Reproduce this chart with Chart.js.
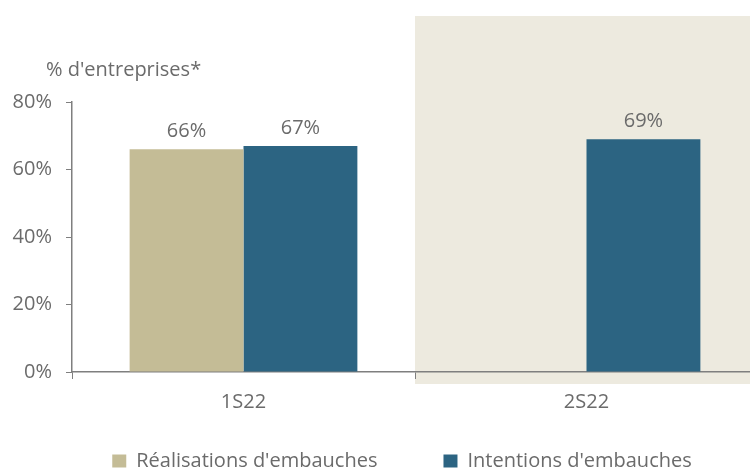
<!DOCTYPE html>
<html>
<head>
<meta charset="utf-8">
<script src="https://cdn.jsdelivr.net/npm/chart.js@4/dist/chart.umd.min.js"></script>
<style>
html,body{margin:0;padding:0;overflow:hidden;background:#fff;}
#wrap{width:758px;height:471px;position:relative;}
</style>
</head>
<body>
<div id="wrap"><canvas id="c" width="758" height="471"></canvas></div>
<script>
const categories = ['1S22', '2S22'];
const realisations = [66, null];
const intentions = [67, 69];
const yTicks = [0, 20, 40, 60, 80];
const seriesNames = ["Réalisations d'embauches", "Intentions d'embauches"];
const unitTitle = "% d'entreprises*";

const FONT = '"Open Sans", Lato, sans-serif';
const TXT = '#6b6b6b';
const AXIS = '#7f7f7f';
const LEG_PAD = 66;
const LEG_FONT = 20;

const decor = {
  id: 'decor',
  afterLayout(chart) {
    const lg = chart.legend;
    if (lg) {
      lg.top = 461 - LEG_FONT / 2 - LEG_PAD;
      lg.bottom = chart.height;
      lg.height = lg.bottom - lg.top;
      lg.left = 46;
      lg.width = lg.right - lg.left;
    }
  },
  beforeDraw(chart) {
    const {ctx, chartArea, scales: {x}} = chart;
    const half = (x.getPixelForValue(1) - x.getPixelForValue(0)) / 2;
    const left = x.getPixelForValue(1) - half;
    ctx.save();
    ctx.fillStyle = '#edeadf';
    ctx.fillRect(left, chartArea.top - 86, chart.width - left, chartArea.bottom - chartArea.top + 98);
    ctx.restore();
  },
  afterDraw(chart) {
    const {ctx, chartArea} = chart;
    ctx.save();
    ctx.fillStyle = TXT;
    ctx.textBaseline = 'alphabetic';
    ctx.textAlign = 'left';
    ctx.font = '20px ' + FONT;
    ctx.fillText(unitTitle, 46, chartArea.top - 26);
    ctx.textAlign = 'center';
    ctx.font = '20px ' + FONT;
    chart.data.datasets.forEach((ds, di) => {
      const meta = chart.getDatasetMeta(di);
      meta.data.forEach((bar, i) => {
        const v = ds.data[i];
        if (v === null || v === undefined) return;
        ctx.fillText(v + '%', bar.x, bar.y - 12);
      });
    });
    ctx.restore();
  }
};

new Chart(document.getElementById('c'), {
  type: 'bar',
  data: {
    labels: categories,
    datasets: [
      {label: seriesNames[0], data: realisations, backgroundColor: '#c4bc96', borderWidth: 0},
      {label: seriesNames[1], data: intentions, backgroundColor: '#2c6482', borderWidth: 0}
    ]
  },
  options: {
    responsive: false,
    animation: false,
    layout: {padding: {top: 102, left: 0, right: 0, bottom: 0}},
    datasets: {bar: {categoryPercentage: 0.664, barPercentage: 1.0}},
    plugins: {
      legend: {
        position: 'bottom',
        maxHeight: 56,
        labels: {
          font: {family: FONT, size: LEG_FONT},
          color: TXT,
          boxWidth: 14,
          boxHeight: 13,
          padding: LEG_PAD
        }
      },
      tooltip: {enabled: false}
    },
    scales: {
      x: {
        offset: true,
        grid: {offset: true, drawOnChartArea: false, drawTicks: true, tickLength: 7, color: AXIS},
        border: {color: AXIS, width: 1.5},
        ticks: {font: {family: FONT, size: 20}, color: TXT, padding: 11},
        afterFit(scale) { scale.height = 43; }
      },
      y: {
        min: 0, max: 80,
        afterBuildTicks(scale) { scale.ticks = yTicks.map(v => ({value: v})); },
        grid: {drawOnChartArea: false, drawTicks: true, tickLength: 6, color: AXIS},
        border: {color: AXIS, width: 1.5},
        ticks: {font: {family: FONT, size: 20}, color: TXT, padding: 14, callback: v => v + '%'},
        afterFit(scale) { scale.width = 72; }
      }
    }
  },
  plugins: [decor]
});
</script>
</body>
</html>
